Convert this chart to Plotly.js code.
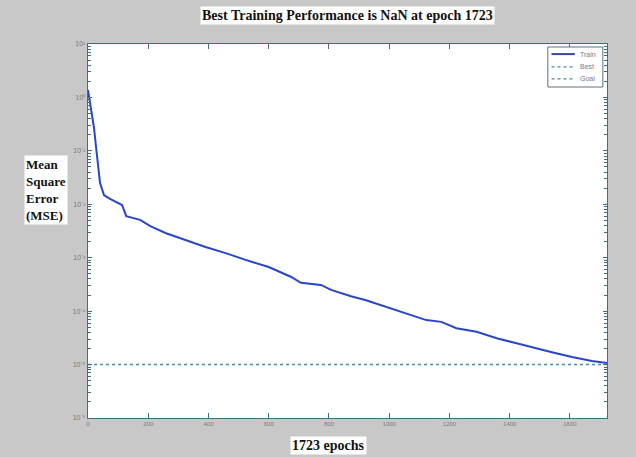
<!DOCTYPE html>
<html>
<head>
<meta charset="utf-8">
<script src="https://cdn.plot.ly/plotly-3.0.1.min.js"></script>
<style>html,body{margin:0;padding:0;background:#c8c8c8;}#chart{width:636px;height:457px;}</style>
</head>
<body>
<div id="chart"></div>
<script>
// Training curve (epoch, MSE)
const trainEpochs = [0, 10, 20, 27, 33, 40, 53, 73, 113, 127, 173, 207, 257, 323, 390, 457, 523, 600, 673, 707, 773, 807, 873, 923, 990, 1057, 1123, 1173, 1223, 1290, 1357, 1423, 1473, 1540, 1607, 1673, 1723];
const trainMSE = [1.377, 0.634, 0.268, 0.113, 0.0499, 0.0250, 0.0149, 0.0126, 0.0097, 0.0060, 0.0051, 0.0039, 0.0029, 0.00215, 0.00159, 0.00122, 0.00091, 0.00067, 0.00044, 0.00034, 0.00031, 0.00025, 0.00019, 0.00016, 0.00012, 0.000092, 0.000068, 0.000063, 0.000048, 0.000041, 0.000031, 0.000025, 0.000021, 0.000017, 0.0000139, 0.0000117, 0.0000107];
const goalEpochs = [0, 1723];
const goalMSE = [1e-5, 1e-5];
const xTicks = [0, 200, 400, 600, 800, 1000, 1200, 1400, 1600];
const yTickVals = [1e-6, 1e-5, 1e-4, 1e-3, 1e-2, 1e-1, 1, 10];
const yTickText = ["10\u207B\u2076", "10\u207B\u2075", "10\u207B\u2074", "10\u207B\u00B3", "10\u207B\u00B2", "10\u207B\u00B9", "10\u2070", "10\u00B9"];
const seriesNames = ["Train", "Best", "Goal"];
const titleText = "Best Training Performance is NaN at epoch 1723";
const xLabel = "1723 epochs";
const yLabel = "Mean<br>Square<br>Error<br>(MSE)";

const serif = "'Liberation Serif', 'DejaVu Serif', serif";
const axisCol = "#3a7080";
const goalCol = "#4a8aa0";

// unlabelled 2..9 minor ticks on an overlay axis
const yMinorVals = [];
yTickVals.forEach(function (v) {
  if (v < 10) for (let m = 2; m <= 9; m++) yMinorVals.push(m * v);
});

const traces = [
  {x: trainEpochs, y: trainMSE, mode: "lines", name: seriesNames[0],
   line: {color: "#2a46c8", width: 2}},
  {x: goalEpochs, y: goalMSE, mode: "lines", name: seriesNames[2],
   line: {color: goalCol, width: 1.5, dash: "dot"}}
];

// custom compact legend (paper coordinates)
const lgX0 = 0.886, lgX1 = 0.992, lgY0 = 0.885, lgY1 = 0.992;
const rowY = [0.973, 0.939, 0.907];
const sampleX0 = 0.893, sampleX1 = 0.938, textX = 0.945;
const sampleStyle = [
  {color: "#3a46a8", width: 2, dash: "solid"},
  {color: goalCol, width: 1.3, dash: "dot"},
  {color: goalCol, width: 1.3, dash: "dot"}
];
const shapes = [{type: "rect", xref: "paper", yref: "paper", x0: lgX0, x1: lgX1, y0: lgY0, y1: lgY1,
  fillcolor: "#ffffff", line: {color: "#5a7080", width: 1}}];
const legendText = [];
seriesNames.forEach(function (n, i) {
  shapes.push({type: "line", xref: "paper", yref: "paper", x0: sampleX0, x1: sampleX1,
    y0: rowY[i], y1: rowY[i], line: sampleStyle[i]});
  legendText.push({text: n, xref: "paper", yref: "paper", x: textX, y: rowY[i],
    xanchor: "left", yanchor: "middle", showarrow: false,
    font: {family: "Arial, sans-serif", size: 7, color: "#7a7a8a"}});
});

const layout = {
  width: 636, height: 457,
  paper_bgcolor: "#c8c8c8",
  plot_bgcolor: "#ffffff",
  margin: {l: 88, r: 29, t: 44, b: 39},
  showlegend: false,
  shapes: shapes,
  xaxis: {range: [0, 1723], tickvals: xTicks, ticktext: xTicks.map(String),
    ticks: "inside", ticklen: 5, tickcolor: axisCol, mirror: "ticks",
    showline: true, linecolor: axisCol, linewidth: 1.2,
    showgrid: false, zeroline: false,
    tickfont: {family: "Arial, sans-serif", size: 6, color: "#7a7a7a"}},
  yaxis: {type: "log", range: [-6, 1], tickvals: yTickVals, ticktext: yTickText,
    ticks: "inside", ticklen: 4, tickcolor: axisCol, mirror: "ticks",
    showline: true, linecolor: axisCol, linewidth: 1.2,
    showgrid: false, zeroline: false,
    tickfont: {family: "Arial, sans-serif", size: 7, color: "#7a7a7a"}},
  yaxis2: {type: "log", range: [-6, 1], overlaying: "y", side: "left",
    tickvals: yMinorVals, showticklabels: false,
    ticks: "inside", ticklen: 3, tickcolor: axisCol, mirror: "ticks",
    showline: false, showgrid: false, zeroline: false},
  annotations: [
    {text: "<b>" + titleText + "</b>", xref: "paper", yref: "paper", x: 0.5, y: 1,
     yshift: 29, xanchor: "center", yanchor: "middle", showarrow: false,
     bgcolor: "#ffffff", borderpad: 1,
     font: {family: serif, size: 14, color: "#111111"}},
    {text: "<b>" + xLabel + "</b>", xref: "paper", yref: "paper", x: 0.464, y: 0,
     yshift: -27, xanchor: "center", yanchor: "middle", showarrow: false,
     bgcolor: "#ffffff", borderpad: 1,
     font: {family: serif, size: 14, color: "#111111"}},
    {text: "<b>" + yLabel + "</b>", xref: "paper", yref: "paper", x: -0.081, y: 0.61,
     xanchor: "center", yanchor: "middle", align: "left", showarrow: false,
     bgcolor: "#ffffff", borderpad: 1,
     font: {family: serif, size: 13, color: "#111111"}}
  ].concat(legendText)
};

// invisible anchor trace so the minor-tick axis is drawn
traces.push({x: [null], y: [null], yaxis: "y2", mode: "lines", showlegend: false, hoverinfo: "skip"});

Plotly.newPlot("chart", traces, layout, {displayModeBar: false, staticPlot: true});
</script>
</body>
</html>
